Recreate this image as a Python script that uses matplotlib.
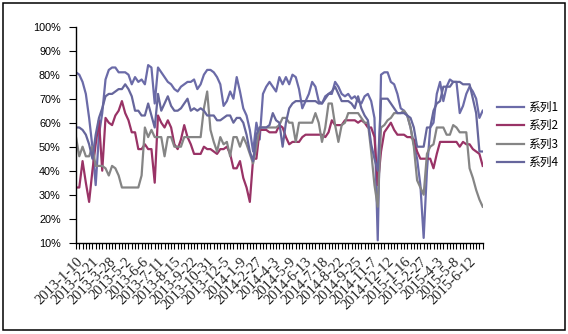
import matplotlib
matplotlib.use("Agg")
import matplotlib.pyplot as plt
from matplotlib.patches import Rectangle
from matplotlib.ticker import FuncFormatter, MultipleLocator
import numpy as np

# weekly values, in percent (125 weeks, 2013-1-10 .. 2015-7)
s1 = [81, 80, 77, 72, 62, 50, 34, 55, 64, 78, 82, 83, 83, 81, 81, 81, 80, 76, 79, 77, 78, 76, 84, 83, 68, 83, 81, 79, 77, 76, 74, 73,
      75, 76, 77, 77, 78, 74, 76, 80, 82, 82, 81, 79, 76, 67, 69, 73, 70, 79, 73, 66, 63, 57, 48, 60, 53, 72, 75, 77, 75, 73, 79, 76,
      79, 76, 80, 79, 74, 66, 69, 72, 77, 75, 69, 68, 71, 72, 72, 77, 75, 72, 71, 72, 70, 71, 69, 68, 71, 72, 69, 62, 11, 80, 81, 81,
      77, 76, 72, 66, 65, 63, 58, 51, 45, 34, 12, 40, 58, 60, 72, 77, 69, 75, 78, 77, 77, 64, 67, 72, 75, 73, 70, 62, 65]
s2 = [33, 33, 44, 35, 27, 40, 51, 61, 40, 62, 60, 59, 63, 65, 69, 64, 61, 56, 56, 49, 49, 51, 49, 49, 35, 63, 60, 58, 61, 58, 51, 49,
      53, 59, 54, 51, 47, 47, 47, 50, 49, 49, 48, 47, 49, 49, 50, 47, 41, 41, 44, 37, 33, 27, 45, 45, 57, 57, 57, 56, 56, 56, 59, 58,
      54, 51, 52, 52, 52, 54, 55, 55, 55, 55, 55, 55, 54, 56, 61, 59, 59, 59, 61, 61, 61, 61, 60, 61, 60, 58, 58, 54, 34, 48, 56, 58,
      60, 57, 55, 55, 55, 54, 54, 53, 48, 45, 45, 45, 45, 41, 47, 52, 52, 52, 52, 52, 52, 50, 52, 51, 51, 49, 48, 47, 42]
s3 = [54, 46, 50, 46, 46, 50, 42, 42, 42, 41, 38, 42, 41, 38, 33, 33, 33, 33, 33, 33, 38, 58, 54, 57, 54, 54, 54, 46, 54, 54, 50, 50,
      50, 54, 54, 54, 54, 54, 54, 66, 73, 57, 52, 48, 54, 51, 52, 46, 54, 54, 50, 54, 51, 47, 43, 50, 58, 58, 58, 58, 58, 58, 59, 62,
      62, 60, 60, 52, 60, 60, 60, 60, 60, 64, 60, 52, 58, 68, 68, 59, 52, 59, 60, 64, 64, 64, 64, 62, 60, 60, 48, 34, 25, 58, 59, 61,
      62, 64, 64, 64, 65, 63, 58, 50, 36, 33, 30, 47, 50, 51, 58, 58, 58, 55, 55, 59, 58, 56, 56, 56, 41, 37, 32, 28, 25]
s4 = [58, 58, 57, 55, 51, 45, 55, 62, 66, 71, 72, 72, 73, 74, 74, 76, 74, 71, 65, 65, 63, 63, 68, 63, 58, 72, 65, 68, 71, 67, 65, 65,
      66, 68, 70, 65, 66, 65, 66, 65, 63, 63, 63, 61, 61, 62, 63, 63, 60, 62, 62, 60, 55, 48, 44, 55, 58, 58, 58, 59, 64, 61, 60, 50,
      60, 66, 68, 69, 69, 69, 69, 69, 69, 69, 68, 68, 70, 72, 73, 75, 72, 69, 69, 69, 68, 66, 71, 66, 63, 61, 51, 45, 40, 70, 70, 70,
      68, 66, 64, 64, 64, 63, 62, 58, 50, 50, 50, 58, 58, 65, 68, 69, 75, 75, 75, 77, 77, 77, 76, 76, 76, 70, 64, 48, 48]

# one label every 5 weeks
date_labels = ["2013-1-10", "2013-2-21", "2013-3-28", "2013-5-2", "2013-6-6", "2013-7-11", "2013-8-15",
               "2013-9-22", "2013-10-31", "2013-12-5", "2014-1-9", "2014-2-27", "2014-4-3", "2014-5-9",
               "2014-6-13", "2014-7-18", "2014-8-22", "2014-9-25", "2014-11-7", "2014-12-12", "2015-1-16",
               "2015-2-27", "2015-4-3", "2015-5-8", "2015-6-12"]
names = ["系列1", "系列2", "系列3", "系列4"]
colors = ["#6B6BA8", "#993366", "#858585", "#66669C"]

W, H = 568, 334
fig = plt.figure(figsize=(W / 100, H / 100), dpi=100)
ax = fig.add_axes([76 / W, 1 - 242.7 / H, (482.7 - 76) / W, (242.7 - 26.7) / H])

x = np.arange(len(s1))
for s, c, n in zip([s1, s2, s3, s4], colors, names):
    ax.plot(x, np.array(s) / 100, color=c, lw=1.6, label=n, solid_joinstyle='round')

ax.set_xlim(0, len(s1) - 1)
ax.set_ylim(0.1, 1.0)
ax.yaxis.set_major_locator(MultipleLocator(0.1))
ax.yaxis.set_major_formatter(FuncFormatter(lambda v, p: f"{int(round(v * 100))}%"))
ax.set_xticks(np.arange(0, 5 * len(date_labels), 5))
ax.set_xticks(x, minor=True)
ax.set_xticklabels(date_labels, rotation=45, ha='right', va='top', rotation_mode='anchor',
                   family='Liberation Serif', fontsize=10.5, color='#222222')
for lab in ax.get_yticklabels():
    lab.set_family('Liberation Sans')
    lab.set_fontsize(7.8)
ax.tick_params(axis='x', which='both', length=4, width=0.8, direction='out', pad=5)
ax.tick_params(axis='y', length=5, width=0.8, direction='out', pad=6)
for sp in ['top', 'right']:
    ax.spines[sp].set_visible(False)
for sp in ['left', 'bottom']:
    ax.spines[sp].set_linewidth(1.0)

leg = ax.legend(loc='center left', bbox_to_anchor=(497 / W, 1 - 135 / H), bbox_transform=fig.transFigure,
                frameon=False, borderpad=0, borderaxespad=0, handlelength=2.3, handletextpad=0.3,
                labelspacing=0.45, prop={'family': 'Noto Sans CJK SC', 'size': 8.5})

fig.patches.append(Rectangle((2.5 / W, 1 - 329.5 / H), 562 / W, 327 / H, transform=fig.transFigure,
                             fill=False, edgecolor='black', lw=1.1))

fig.savefig("out.png", dpi=100)
